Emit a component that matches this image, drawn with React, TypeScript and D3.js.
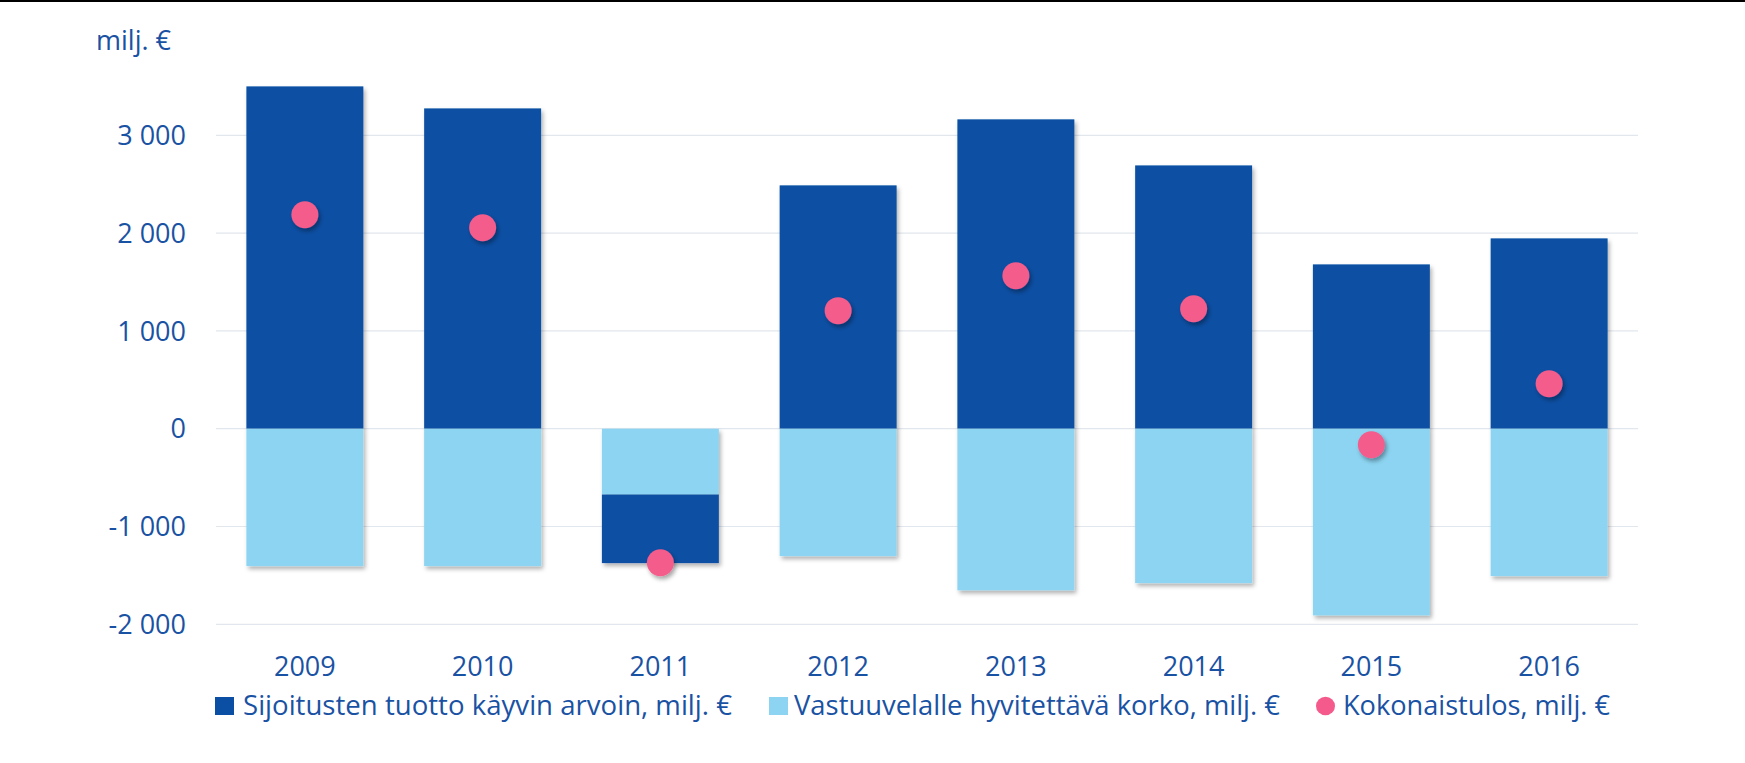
import React from "react";
import * as d3 from "d3";

const years = ["2009", "2010", "2011", "2012", "2013", "2014", "2015", "2016"];
const investmentReturn = [3500, 3275, -703, 2488, 3163, 2692, 1680, 1946];
const creditedInterest = [-1405, -1405, -671, -1303, -1653, -1579, -1909, -1507];
const totalResult = [2188, 2055, -1370, 1207, 1564, 1227, -164, 460];
const yTicks = [-2000, -1000, 0, 1000, 2000, 3000];
const legendLabels = [
  "Sijoitusten tuotto käyvin arvoin, milj. €",
  "Vastuuvelalle hyvitettävä korko, milj. €",
  "Kokonaistulos, milj. €",
];

const W = 1745;
const H = 763;
const DARK = "#0a4fa3";
const LIGHT = "#8cd4f1";
const PINK = "#f45b8c";
const TEXT = "#1a52a3";
const GRID = "#e2e7ee";
const FONT = "'Open Sans', 'Noto Sans', sans-serif";

const fmt = (v: number) => {
  const s = Math.abs(v).toString().replace(/\B(?=(\d{3})+(?!\d))/g, " ");
  return (v < 0 ? "-" : "") + s;
};

export default function App() {
  const x = d3.scaleBand<string>().domain(years).range([216, 1638]).paddingInner(0.342).paddingOuter(0.171);
  const y = d3.scaleLinear().domain([-2000, 3000]).range([624.3, 135.3]);

  const rows = years.map((yr, i) => ({ year: yr, light: creditedInterest[i], dark: investmentReturn[i] }));
  const stack = d3.stack<any>().keys(["light", "dark"]).offset(d3.stackOffsetDiverging);
  const series = stack(rows);
  const lightS = series[0];
  const darkS = series[1];

  const fmtTick = (v: number) => (v === 0 ? "0" : fmt(v));

  const legendY = 715;
  const legend = [
    { kind: "rect", color: DARK, sx: 215, tx: 243, w: 489, label: legendLabels[0] },
    { kind: "rect", color: LIGHT, sx: 769, tx: 794, w: 486, label: legendLabels[1] },
    { kind: "circle", color: PINK, sx: 1316, tx: 1343, w: 267, label: legendLabels[2] },
  ];

  return (
    <svg width={W} height={H} style={{ position: "absolute", left: 0, top: 0, background: "#fff" }} fontFamily={FONT}>
      <defs>
        <filter id="barShadow" x="-10%" y="-10%" width="130%" height="130%">
          <feDropShadow dx="2" dy="3" stdDeviation="2" floodColor="#000" floodOpacity="0.3" />
        </filter>
        <filter id="dotShadow" x="-50%" y="-50%" width="200%" height="200%">
          <feDropShadow dx="2" dy="3" stdDeviation="2" floodColor="#000" floodOpacity="0.35" />
        </filter>
      </defs>
      <rect x={0} y={0} width={W} height={H} fill="#fff" />
      <line x1={0} x2={W} y1={1} y2={1} stroke="#000" strokeWidth={2} />

      <text x={96} y={50} fontSize={27} fill={TEXT}>milj. €</text>

      {yTicks.map((t) => (
        <g key={t}>
          <line x1={216} x2={1638} y1={y(t)} y2={y(t)} stroke={GRID} strokeWidth={1.2} />
          <text x={186} y={y(t)} dy="0.36em" textAnchor="end" fontSize={27} fill={TEXT}>
            {fmtTick(t)}
          </text>
        </g>
      ))}

      {years.map((yr, i) => {
        const bx = x(yr)!;
        const bw = x.bandwidth();
        const l = lightS[i];
        const d = darkS[i];
        return (
          <g key={yr} filter="url(#barShadow)">
            <rect x={bx} width={bw} y={y(Math.max(d[0], d[1]))} height={Math.abs(y(d[0]) - y(d[1]))} fill={DARK} />
            <rect x={bx} width={bw} y={y(Math.max(l[0], l[1]))} height={Math.abs(y(l[0]) - y(l[1]))} fill={LIGHT} />
          </g>
        );
      })}

      {years.map((yr, i) => (
        <circle
          key={yr}
          cx={x(yr)! + x.bandwidth() / 2}
          cy={y(totalResult[i])}
          r={13.5}
          fill={PINK}
          filter="url(#dotShadow)"
        />
      ))}

      {years.map((yr) => (
        <text key={yr} x={x(yr)! + x.bandwidth() / 2} y={676} textAnchor="middle" fontSize={27} fill={TEXT}>
          {yr}
        </text>
      ))}

      {legend.map((it) => (
        <g key={it.label}>
          {it.kind === "rect" ? (
            <rect x={it.sx} y={697} width={19} height={18} fill={it.color} />
          ) : (
            <ellipse cx={it.sx + 9.5} cy={706} rx={9.5} ry={9.3} fill={it.color} />
          )}
          <text x={it.tx} y={legendY} fontSize={27} fill={TEXT} textLength={it.w} lengthAdjust="spacingAndGlyphs">
            {it.label}
          </text>
        </g>
      ))}
    </svg>
  );
}
